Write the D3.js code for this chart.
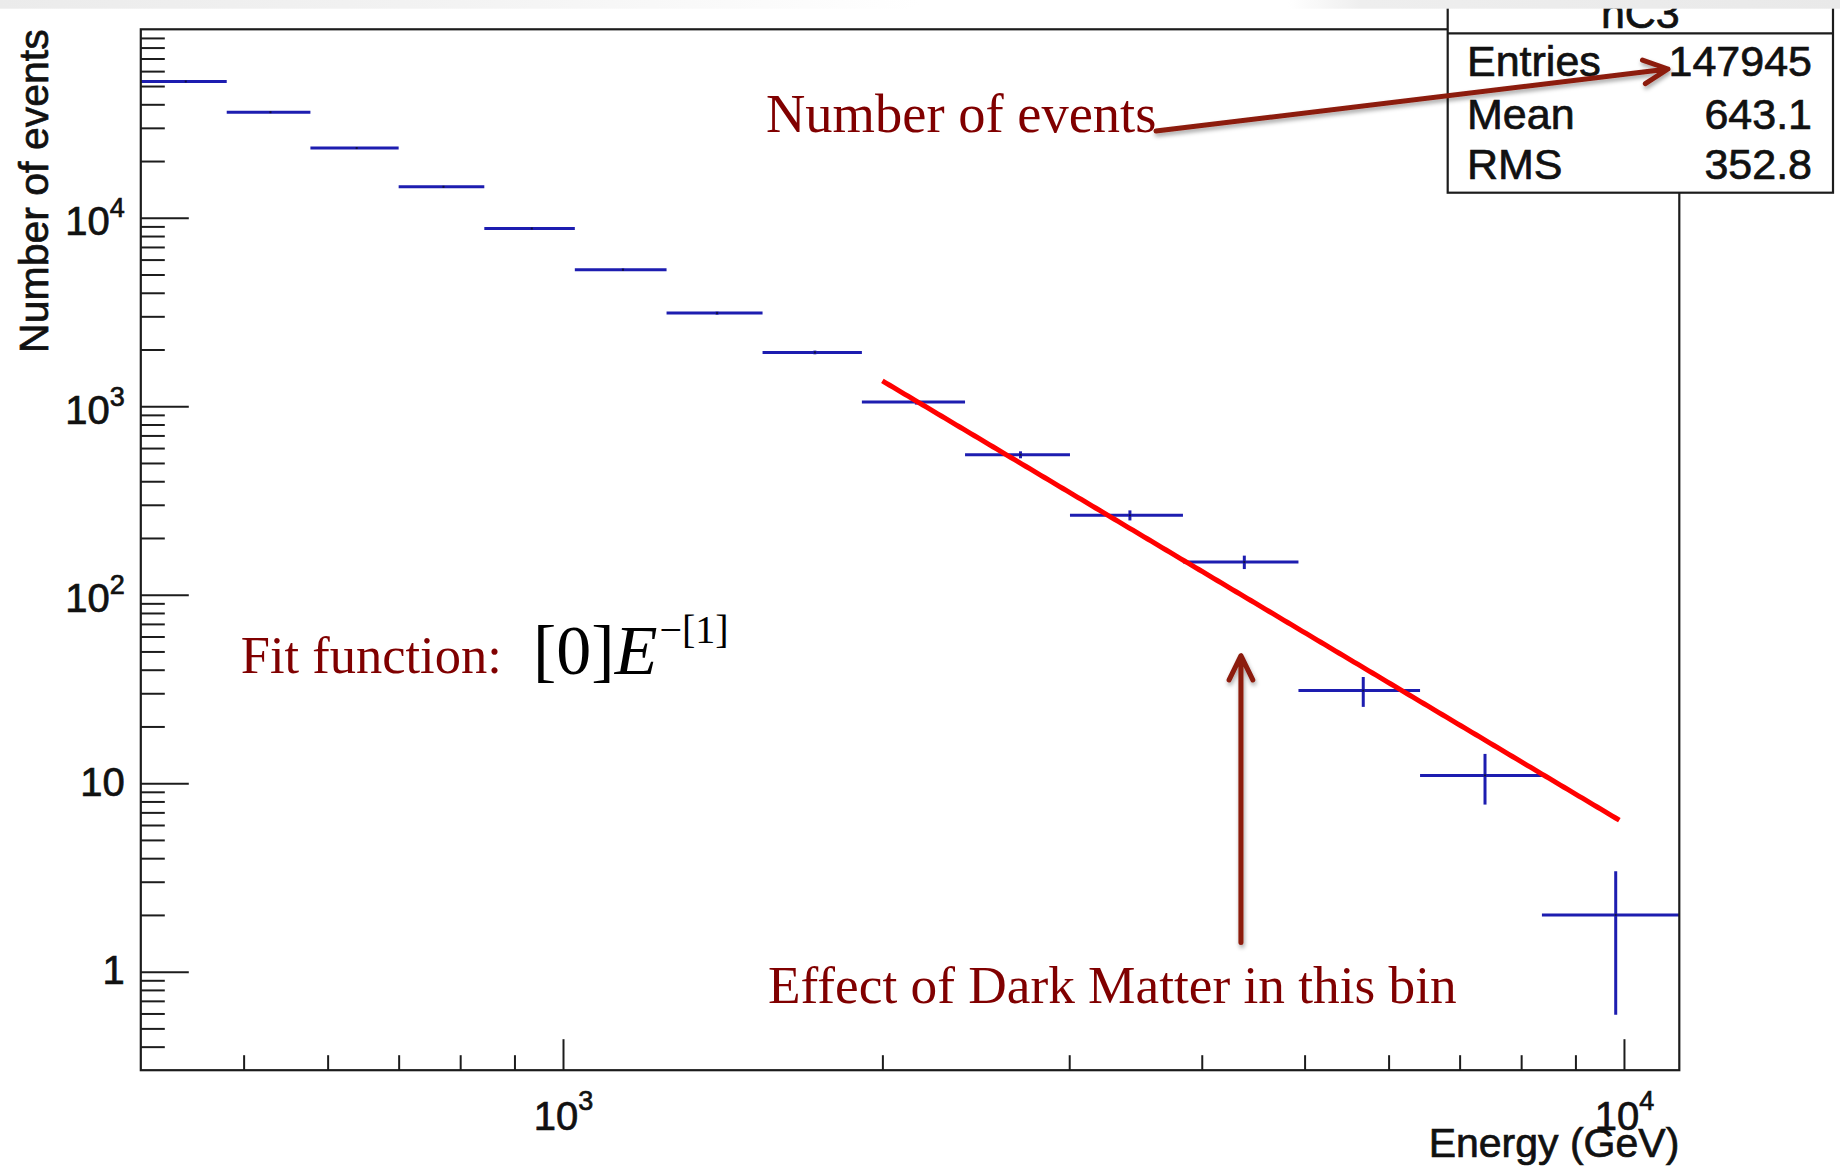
<!DOCTYPE html>
<html>
<head>
<meta charset="utf-8">
<script src="https://cdn.jsdelivr.net/npm/d3@7"></script>
<style>
  html, body { margin: 0; padding: 0; background: #ffffff; }
  svg { display: block; }
  .sans { font-family: 'Liberation Sans', Arial, Helvetica, sans-serif; fill: #111; stroke: #111; stroke-width: 0.7px; }
</style>
</head>
<body>
<svg id="chart" width="1840" height="1168"></svg>
<script>
// ---- Histogram: energy spectrum (GeV) ----
const binEdges  = [400, 482, 578, 700, 843, 1026, 1252, 1542, 1913, 2393, 3005, 3840, 4934, 6424, 8369, 11276];
const binCounts = [52850, 36330, 23440, 14600, 8770, 5300, 3120, 1930, 1052, 553, 264, 149, 31, 11, 2];
const binErrors = [230, 191, 153, 121, 94, 73, 56, 44, 32, 23.5, 16.2, 12.2, 5.6, 3.3, 1.41];

// ---- Power-law fit  [0]*E^-[1] ----
const fitParams = [1.633e14, 3.356];
const fitRange  = [2000, 9900];

// ---- Axis ticks ----
const yRange      = [0.3, 1e5];
const yMajorTicks = [1, 10, 100, 1000, 10000];
const yMinorTicks = [0.4, 0.5, 0.6, 0.7, 0.8, 0.9,
                     2, 3, 4, 5, 6, 7, 8, 9,
                     20, 30, 40, 50, 60, 70, 80, 90,
                     200, 300, 400, 500, 600, 700, 800, 900,
                     2000, 3000, 4000, 5000, 6000, 7000, 8000, 9000,
                     20000, 30000, 40000, 50000, 60000, 70000, 80000, 90000];
const xMajorTicks = [1000, 10000];
const xMinorTicks = [500, 600, 700, 800, 900, 2000, 3000, 4000, 5000, 6000, 7000, 8000, 9000];

// ---- Statistics box ----
const statsTitle  = "hC3";
const statsLabels = ["Entries", "Mean", "RMS"];
const statsValues = ["147945", "643.1", "352.8"];

// ---- Annotation: arrow into the highlighted bin (data coordinates) ----
const binArrow = { energy: 4355, from: 1.43, to: 47.5 };

const W = 1840, H = 1168;
const frame = { left: 140.8, right: 1679.3, top: 29.3, bottom: 1070.2 };
const serif = "'Liberation Serif', 'Times New Roman', serif";
const axisColor = "#1c1c1c";
const histColor = "#1d1db0";
const noteColor = "#800000";
const arrowColor = "#8c1a0c";

const svg = d3.select("#chart");

const defs = svg.append("defs");
const grad = defs.append("linearGradient").attr("id", "topStrip").attr("x1", "0").attr("x2", "1").attr("y1", "0").attr("y2", "0");
[[0, "#ebebeb"], [0.25, "#f3f3f3"], [0.5, "#ffffff"], [0.7, "#ffffff"], [0.74, "#eeeeee"], [1, "#e9e9e9"]]
  .forEach(([o, c]) => grad.append("stop").attr("offset", o).attr("stop-color", c));
defs.append("filter").attr("id", "arrowShadow")
  .attr("filterUnits", "userSpaceOnUse").attr("x", 0).attr("y", 0).attr("width", W).attr("height", H)
  .append("feDropShadow").attr("dx", 1).attr("dy", 3).attr("stdDeviation", 2)
  .attr("flood-color", "#000").attr("flood-opacity", 0.35);
defs.append("clipPath").attr("id", "frameClip").append("rect")
  .attr("x", frame.left).attr("y", frame.top)
  .attr("width", frame.right - frame.left).attr("height", frame.bottom - frame.top);

svg.append("rect").attr("width", W).attr("height", H).attr("fill", "#ffffff");

// ---- Scales ----
const x = d3.scaleLog().domain([binEdges[0], binEdges[binEdges.length - 1]]).range([frame.left, frame.right]);
const y = d3.scaleLog().domain(yRange).range([frame.bottom, frame.top]);

// ---- Axes (ticks point into the frame) ----
function styleAxis(g) {
  g.select(".domain").remove();
  g.selectAll(".tick line").attr("stroke", axisColor).attr("stroke-width", 2);
}
function powerLabel(textSel, v, supShift, supSize) {
  textSel.text(null);
  const e = Math.round(Math.log10(v));
  if (e <= 1) {
    textSel.append("tspan").text(String(v));
  } else {
    textSel.append("tspan").text("10");
    textSel.append("tspan").attr("dy", -supShift).attr("font-size", supSize).text(String(e));
  }
}

svg.append("g").attr("transform", `translate(${frame.left},0)`)
  .call(d3.axisLeft(y).tickValues(yMinorTicks).tickSize(-24).tickFormat(""))
  .call(styleAxis);

const yAxisG = svg.append("g").attr("transform", `translate(${frame.left},0)`)
  .call(d3.axisLeft(y).tickValues(yMajorTicks).tickSize(-48).tickPadding(16))
  .call(styleAxis);
yAxisG.attr("font-family", null).attr("font-size", null);
yAxisG.selectAll(".tick text")
  .attr("class", "sans").attr("font-size", 40).attr("fill", null)
  .attr("dy", d => (d >= 100 ? 17 : 12))
  .each(function (d) { powerLabel(d3.select(this), d, 18, 27); });

svg.append("g").attr("transform", `translate(0,${frame.bottom})`)
  .call(d3.axisBottom(x).tickValues(xMinorTicks).tickSize(-15).tickFormat(""))
  .call(styleAxis);

const xAxisG = svg.append("g").attr("transform", `translate(0,${frame.bottom})`)
  .call(d3.axisBottom(x).tickValues(xMajorTicks).tickSize(-31))
  .call(styleAxis);
xAxisG.attr("font-family", null).attr("font-size", null);
xAxisG.selectAll(".tick text")
  .attr("class", "sans").attr("font-size", 40).attr("fill", null)
  .attr("y", 60).attr("dy", 0)
  .each(function (d) { powerLabel(d3.select(this), d, 20, 27); });

// Axis titles
svg.append("text").attr("class", "sans")
  .attr("transform", `translate(48,${frame.top}) rotate(-90)`)
  .attr("text-anchor", "end").attr("font-size", 41)
  .text("Number of events");
svg.append("text").attr("class", "sans")
  .attr("x", frame.right).attr("y", 1157)
  .attr("text-anchor", "end").attr("font-size", 41)
  .text("Energy (GeV)");

// ---- Histogram bins with error bars ----
const bins = binCounts.map((c, i) => ({
  lo: binEdges[i], hi: binEdges[i + 1], c, err: binErrors[i],
  mid: (binEdges[i] + binEdges[i + 1]) / 2
}));
const hist = svg.append("g").attr("clip-path", "url(#frameClip)");
hist.selectAll("line.hbar").data(bins).join("line").attr("class", "hbar")
  .attr("x1", d => x(d.lo)).attr("x2", d => x(d.hi))
  .attr("y1", d => y(d.c)).attr("y2", d => y(d.c))
  .attr("stroke", histColor).attr("stroke-width", 3);
hist.selectAll("line.ebar").data(bins).join("line").attr("class", "ebar")
  .attr("x1", d => x(d.mid)).attr("x2", d => x(d.mid))
  .attr("y1", d => y(d.c + d.err)).attr("y2", d => y(Math.max(d.c - d.err, yRange[0])))
  .attr("stroke", histColor).attr("stroke-width", 3);
hist.selectAll("rect.marker").data(bins).join("rect").attr("class", "marker")
  .attr("x", d => x(d.mid) - 1).attr("y", d => y(d.c) - 1)
  .attr("width", 2).attr("height", 2).attr("fill", "#101040");

// ---- Fit curve ----
const fitFn = E => fitParams[0] * Math.pow(E, -fitParams[1]);
const fitPts = d3.range(0, 201).map(i => {
  const E = fitRange[0] * Math.pow(fitRange[1] / fitRange[0], i / 200);
  return [E, fitFn(E)];
});
svg.append("path").datum(fitPts)
  .attr("d", d3.line().x(d => x(d[0])).y(d => y(d[1])))
  .attr("fill", "none").attr("stroke", "#ff0000").attr("stroke-width", 5);

// ---- Frame ----
svg.append("rect")
  .attr("x", frame.left).attr("y", frame.top)
  .attr("width", frame.right - frame.left).attr("height", frame.bottom - frame.top)
  .attr("fill", "none").attr("stroke", axisColor).attr("stroke-width", 2.2);

// ---- Statistics box ----
const sb = { left: 1447.7, right: 1833, top: -12, sep: 33.3, bottom: 192.7 };
svg.append("rect").attr("x", sb.left).attr("y", sb.top)
  .attr("width", sb.right - sb.left).attr("height", sb.bottom - sb.top)
  .attr("fill", "#ffffff").attr("stroke", axisColor).attr("stroke-width", 2.2);
svg.append("line").attr("x1", sb.left).attr("x2", sb.right).attr("y1", sb.sep).attr("y2", sb.sep)
  .attr("stroke", axisColor).attr("stroke-width", 2.2);
svg.append("text").attr("class", "sans").attr("x", (sb.left + sb.right) / 2).attr("y", 28)
  .attr("text-anchor", "middle").attr("font-size", 43)
  .text(statsTitle);
const rowBase = [76, 129, 179];
statsLabels.forEach((lab, i) => {
  svg.append("text").attr("class", "sans").attr("x", 1467).attr("y", rowBase[i])
    .attr("font-size", 43).text(lab);
  svg.append("text").attr("class", "sans").attr("x", 1812).attr("y", rowBase[i]).attr("text-anchor", "end")
    .attr("font-size", 43).text(statsValues[i]);
});

// ---- Annotations ----
function arrowPath(x1, y1, x2, y2) {
  const a = Math.atan2(y2 - y1, x2 - x1), L = 27, t = 26 * Math.PI / 180;
  const p1 = [x2 - L * Math.cos(a - t), y2 - L * Math.sin(a - t)];
  const p2 = [x2 - L * Math.cos(a + t), y2 - L * Math.sin(a + t)];
  return `M${x1},${y1}L${x2},${y2}M${p1[0]},${p1[1]}L${x2},${y2}L${p2[0]},${p2[1]}`;
}
const notes = svg.append("g");
notes.append("path").attr("d", arrowPath(1156, 131, 1668, 69))
  .attr("fill", "none").attr("stroke", arrowColor).attr("stroke-width", 5)
  .attr("stroke-linecap", "round").attr("stroke-linejoin", "round")
  .attr("filter", "url(#arrowShadow)");
notes.append("path")
  .attr("d", arrowPath(x(binArrow.energy), y(binArrow.from), x(binArrow.energy), y(binArrow.to)))
  .attr("fill", "none").attr("stroke", arrowColor).attr("stroke-width", 5)
  .attr("stroke-linecap", "round").attr("stroke-linejoin", "round")
  .attr("filter", "url(#arrowShadow)");

notes.append("text").attr("x", 766).attr("y", 131.7)
  .attr("font-family", serif).attr("font-size", 54.5).attr("fill", noteColor)
  .text("Number of events");
notes.append("text").attr("x", 240.7).attr("y", 673.3)
  .attr("font-family", serif).attr("font-size", 52.5).attr("fill", noteColor)
  .text("Fit function:");
notes.append("text").attr("x", 768).attr("y", 1002.7)
  .attr("font-family", serif).attr("font-size", 53.3).attr("fill", noteColor)
  .text("Effect of Dark Matter in this bin");

const formula = notes.append("text").attr("x", 533).attr("y", 674)
  .attr("font-family", serif).attr("font-size", 70).attr("fill", "#000");
formula.append("tspan").text("[0]");
formula.append("tspan").attr("font-style", "italic").text("E");
formula.append("tspan").attr("dy", -31).attr("dx", 2).attr("font-size", 40).text("\u2212[1]");

// Light header strip across the top edge
svg.append("rect").attr("x", 0).attr("y", 0).attr("width", W).attr("height", 8.7).attr("fill", "url(#topStrip)");
</script>
</body>
</html>
